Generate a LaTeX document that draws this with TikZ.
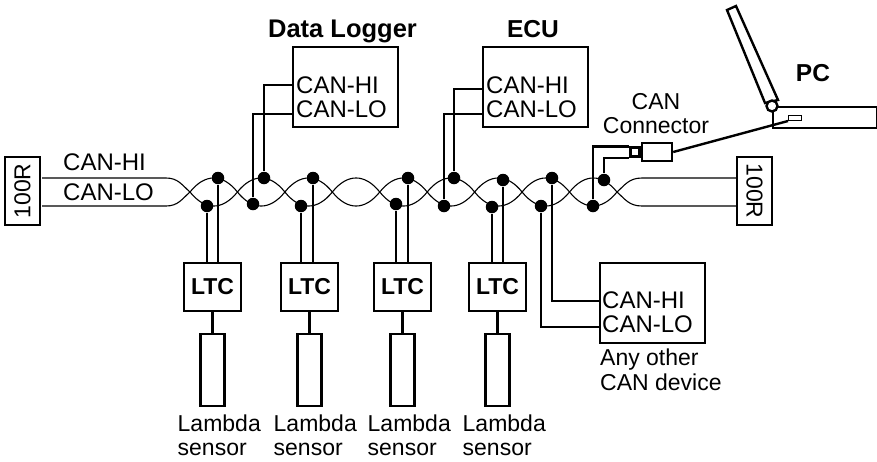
\documentclass[tikz,border=0pt]{standalone}
\usepackage{fontspec}
\setmainfont{Liberation Sans}
\usetikzlibrary{positioning}

\begin{document}
\begin{tikzpicture}[
    x=1pt,y=-1pt,
    font={\fontsize{23}{24}\selectfont},
    line width=2.4pt,
    device/.style={draw,rectangle,inner sep=0pt,minimum width=105pt,minimum height=80pt,anchor=north west},
    ltc/.style={draw,rectangle,inner sep=0pt,minimum width=57pt,minimum height=48pt,font={\fontsize{23}{24}\selectfont\bfseries}},
    sensor/.style={draw,rectangle,inner sep=0pt,minimum width=24pt,minimum height=72pt,anchor=north},
    resistor/.style={draw,rectangle,inner sep=0pt,minimum width=35pt,minimum height=68pt,font={\fontsize{23}{24}\selectfont}},
    txt/.style={inner sep=0pt,align=left,anchor=base west},
    canlbl/.style={inner sep=0pt,anchor=base west,font={\fontsize{24}{25}\selectfont}},
    head/.style={inner sep=0pt,anchor=base,font={\fontsize{24.5}{26}\selectfont\bfseries}},
    dot/.style={circle,fill=black,inner sep=0pt,minimum size=12.5pt},
    wire/.style={line width=1.1pt}
]
    \useasboundingbox (0,0) rectangle (877,461);

    % twisted pair
    \foreach \s in {1,-1} {
      \draw[wire] (42,{192-14*\s}) -- (166,{192-14*\s})
        .. controls (178,{192-14*\s}) and (182,{192-7*\s}) .. (190,192)
        \foreach \i in {1,...,9} {
          .. controls ({190+(\i-1)*47.44+15},{192+(2*mod(\i,2)-1)*18.7*\s}) and ({190+\i*47.44-15},{192+(2*mod(\i,2)-1)*18.7*\s}) .. ({190+\i*47.44},192)
        }
        .. controls (625,{192-7*\s}) and (629,{192-14*\s}) .. (642,{192-14*\s}) -- (736,{192-14*\s});
    }

    \node[resistor] (rleft) at (22.5,191) {\rotatebox{90}{100R}};
    \node[resistor] (rright) at (754.5,191) {\rotatebox{-90}{100R}};
    \node[canlbl] (lblhi) at (62,170) {CAN-HI};
    \node[canlbl] (lbllo) at (62,200) {CAN-LO};

    % bus taps
    \node[dot] (loa) at (207,206) {};
    \node[dot] (hia) at (218,178) {};
    \node[dot] (lob) at (253,204) {};
    \node[dot] (hib) at (264,178) {};
    \node[dot] (loc) at (301,206) {};
    \node[dot] (hic) at (313,178) {};
    \node[dot] (lod) at (396,204) {};
    \node[dot] (hid) at (408,178) {};
    \node[dot] (loe) at (444,206) {};
    \node[dot] (hie) at (454,178) {};
    \node[dot] (lof) at (492,207) {};
    \node[dot] (hif) at (503,180) {};
    \node[dot] (log) at (541,206) {};
    \node[dot] (hig) at (552,178) {};
    \node[dot] (loh) at (593,206) {};
    \node[dot] (hih) at (604,180) {};

    % devices
    \node[device] (logger) at (292,46) {};
    \node[head,font={\fontsize{25.5}{26}\selectfont\bfseries}] (lblogger) at (342.5,37) {Data Logger};
    \node[canlbl] (loggerhi) at (295,93) {CAN-HI};
    \node[canlbl] (loggerlo) at (295,117) {CAN-LO};
    \coordinate (loggerhiport) at (292,85);
    \coordinate (loggerloport) at (292,114);
    \draw (hib) |- (loggerhiport);
    \draw (lob) |- (loggerloport);

    \node[device] (ecu) at (482,46) {};
    \node[head] (lbecu) at (533,37) {ECU};
    \node[canlbl] (ecuhi) at (485,93) {CAN-HI};
    \node[canlbl] (eculo) at (485,117) {CAN-LO};
    \coordinate (ecuhiport) at (482,89);
    \coordinate (eculoport) at (482,114);
    \draw (hie) |- (ecuhiport);
    \draw (loe) |- (eculoport);

    \node[device] (other) at (599,262) {};
    \node[canlbl] (otherhi) at (601,308) {CAN-HI};
    \node[canlbl] (otherlo) at (601,332) {CAN-LO};
    \node[txt,font={\fontsize{23}{25}\selectfont}] (lbother) at (599,390) {Any other\\CAN device};
    \coordinate (otherhiport) at (599,301);
    \coordinate (otherloport) at (599,327);
    \draw (hig) |- (otherhiport);
    \draw (log) |- (otherloport);

    % lambda sensors
    \node[ltc] (ltca) at (212.5,287) {LTC};
    \node[ltc] (ltcb) at (309.5,287) {LTC};
    \node[ltc] (ltcc) at (402.5,287) {LTC};
    \node[ltc] (ltcd) at (497.5,287) {LTC};
    \draw (loa) -- (loa |- ltca.north);
    \draw (hia) -- (hia |- ltca.north);
    \draw (loc) -- (loc |- ltcb.north);
    \draw (hic) -- (hic |- ltcb.north);
    \draw (lod) -- (lod |- ltcc.north);
    \draw (hid) -- (hid |- ltcc.north);
    \draw (lof) -- (lof |- ltcd.north);
    \draw (hif) -- (hif |- ltcd.north);

    \node[sensor] (sensa) at (212.5,333) {};
    \node[sensor] (sensb) at (309.5,333) {};
    \node[sensor] (sensc) at (402.5,333) {};
    \node[sensor] (sensd) at (497.5,333) {};
    \draw (ltca) -- (sensa);
    \draw (ltcb) -- (sensb);
    \draw (ltcc) -- (sensc);
    \draw (ltcd) -- (sensd);

    \node[txt] (lbsensa) at (176.5,455) {Lambda\\sensor};
    \node[txt] (lbsensb) at (272.5,455) {Lambda\\sensor};
    \node[txt] (lbsensc) at (366.5,455) {Lambda\\sensor};
    \node[txt] (lbsensd) at (461.5,455) {Lambda\\sensor};

    % connector and laptop
    \node[draw,rectangle,inner sep=0pt,minimum width=30pt,minimum height=18pt] (conn) at (657,152) {};
    \node[draw,rectangle,inner sep=0pt,minimum width=9pt,minimum height=9pt,left=0pt of conn] (stub) {};
    \node[inner sep=0pt,align=center,anchor=base] (lbconn) at (656,133) {CAN\\Connector};
    \draw (hih) |- (stub.south west);
    \draw (loh) |- (stub.north west);

    \draw (727,10) -- (736,6) -- (778,100) -- (765,103) -- cycle;
    \node[draw,rectangle,inner sep=0pt,minimum width=104pt,minimum height=21pt,anchor=north west] (laptop) at (772,106) {};
    \node[draw,circle,fill=white,inner sep=0pt,minimum size=11pt] (hinge) at (772,106) {};
    \node[draw,rectangle,line width=1pt,inner sep=0pt,minimum width=13pt,minimum height=5pt,anchor=south west] (port) at (788,121) {};
    \draw (conn.east) -- (port.south west);
    \node[head] (lbpc) at (813,81) {PC};
\end{tikzpicture}
\end{document}
